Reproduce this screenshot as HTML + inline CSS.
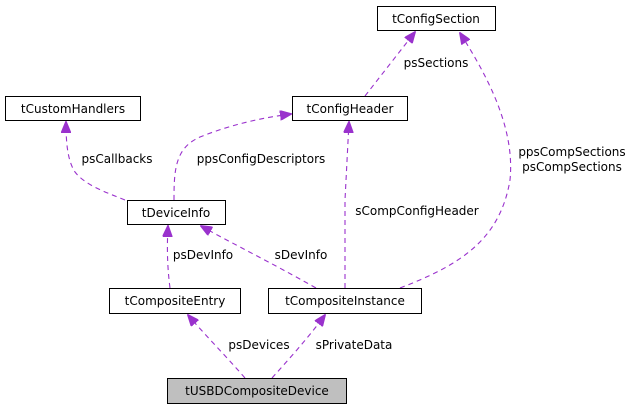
<!DOCTYPE html>
<html><head><meta charset="utf-8"><style>html,body{margin:0;padding:0;background:#fff}</style></head>
<body>
<svg width="637" height="409" viewBox="0 0 637 409" xmlns="http://www.w3.org/2000/svg" font-family="DejaVu Sans, Liberation Sans, sans-serif" font-size="12">
<defs>
<marker id="a" markerWidth="12" markerHeight="10" refX="11" refY="5" orient="auto" markerUnits="userSpaceOnUse">
<path d="M0,0 L12,5 L0,10 z" fill="#9a32cd" stroke="#9a32cd"/>
</marker>
</defs>
<g fill="none" stroke="#9a32cd" stroke-width="1.1" stroke-dasharray="5,4" marker-end="url(#a)">
<path d="M365,96 L415,32"/>
<path d="M400,288 C460,265 500,240 510,180 C515,130 490,80 460,33"/>
<path d="M174,200 C174,170 175,148 200,137 C230,125 260,118 291,114"/>
<path d="M125,200 C105,192 85,185 75,172 C67,160 66,140 66,122"/>
<path d="M345,288 L345,200 L349,122"/>
<path d="M316,288 C270,262 235,245 201,226"/>
<path d="M170,288 C167,265 167,245 168,226"/>
<path d="M245,378 C225,355 205,335 188,315"/>
<path d="M272,378 C290,358 308,338 325,315"/>
</g>
<g stroke="#000" stroke-width="1">
<rect x="377.5" y="6.5" width="118" height="24" fill="#fff"/>
<rect x="5.5" y="96.5" width="135" height="24" fill="#fff"/>
<rect x="292.5" y="96.5" width="115" height="24" fill="#fff"/>
<rect x="127.5" y="200.5" width="98" height="24" fill="#fff"/>
<rect x="109.5" y="288.5" width="131" height="25" fill="#fff"/>
<rect x="268.5" y="288.5" width="153" height="25" fill="#fff"/>
<rect x="167.5" y="378.5" width="179" height="25" fill="#bfbfbf"/>
</g>
<g fill="#000" text-anchor="middle">
<text x="436" y="23">tConfigSection</text>
<text x="73" y="113">tCustomHandlers</text>
<text x="350" y="113">tConfigHeader</text>
<text x="176" y="217">tDeviceInfo</text>
<text x="175" y="305">tCompositeEntry</text>
<text x="345" y="305">tCompositeInstance</text>
<text x="257" y="395">tUSBDCompositeDevice</text>
<text x="436" y="67">psSections</text>
<text x="572" y="156">ppsCompSections</text>
<text x="572" y="171">psCompSections</text>
<text x="261" y="163">ppsConfigDescriptors</text>
<text x="117" y="163">psCallbacks</text>
<text x="417" y="215">sCompConfigHeader</text>
<text x="301" y="259">sDevInfo</text>
<text x="203" y="259">psDevInfo</text>
<text x="259" y="349">psDevices</text>
<text x="354" y="349">sPrivateData</text>
</g>
</svg>
</body></html>
